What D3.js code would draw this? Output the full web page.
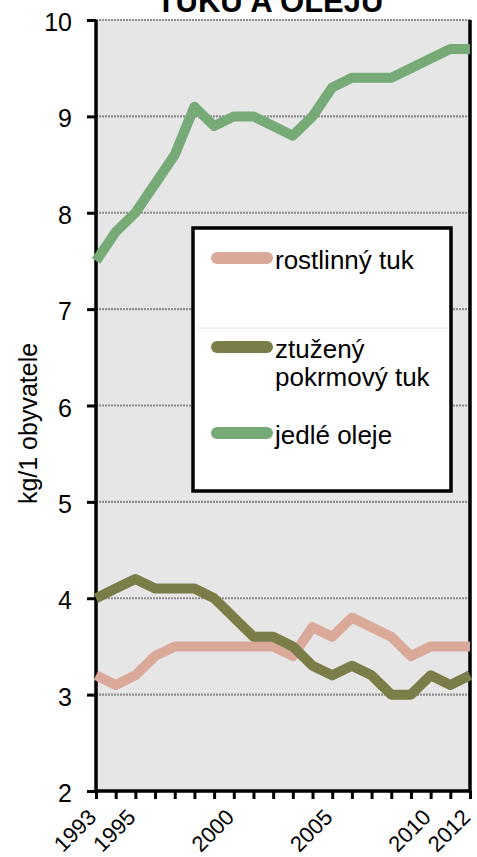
<!DOCTYPE html>
<html>
<head>
<meta charset="utf-8">
<script src="https://cdn.jsdelivr.net/npm/d3@7"></script>
<style>
  body { margin: 0; background: #fff; }
  svg { font-family: "Liberation Sans", Arial, sans-serif; }
</style>
</head>
<body>
<div id="chart"></div>
<script>
// data
const years = d3.range(1993, 2013);
const rostlinnyTuk = [3.2, 3.1, 3.2, 3.4, 3.5, 3.5, 3.5, 3.5, 3.5, 3.5, 3.4, 3.7, 3.6, 3.8, 3.7, 3.6, 3.4, 3.5, 3.5, 3.5];
const ztuzenyTuk = [4.0, 4.1, 4.2, 4.1, 4.1, 4.1, 4.0, 3.8, 3.6, 3.6, 3.5, 3.3, 3.2, 3.3, 3.2, 3.0, 3.0, 3.2, 3.1, 3.2];
const jedleOleje = [7.5, 7.8, 8.0, 8.3, 8.6, 9.1, 8.9, 9.0, 9.0, 8.9, 8.8, 9.0, 9.3, 9.4, 9.4, 9.4, 9.5, 9.6, 9.7, 9.7];
const yTicks = [2, 3, 4, 5, 6, 7, 8, 9, 10];
const xLabels = [1993, 1995, 2000, 2005, 2010, 2012];

const series = [
  { name: ["rostlinný tuk"], values: rostlinnyTuk, color: "#DBA99A" },
  { name: ["ztužený", "pokrmový tuk"], values: ztuzenyTuk, color: "#7A7D48" },
  { name: ["jedlé oleje"], values: jedleOleje, color: "#76AA77" }
];

const W = 477, H = 857;
const margin = { top: 20, right: 7, bottom: 66, left: 96 };

const svg = d3.select("#chart").append("svg")
  .attr("width", W)
  .attr("height", H);

const x = d3.scaleLinear([1993, 2012], [margin.left, W - margin.right]);
const y = d3.scaleLinear([2, 10], [H - margin.bottom, margin.top]);

// title, mostly cut off at the top
svg.append("text")
  .attr("x", 270).attr("y", 12)
  .attr("text-anchor", "middle")
  .style("font-size", "31px").style("font-weight", "bold")
  .text("TUKŮ A OLEJŮ");

// plot background
svg.append("rect")
  .attr("x", margin.left).attr("y", margin.top)
  .attr("width", x(2012) - x(1993)).attr("height", y(2) - y(10))
  .attr("fill", "#E6E6E6");

// dotted grid
svg.append("g")
  .selectAll("line")
  .data(yTicks.filter(d => d > 2))
  .join("line")
    .attr("x1", margin.left).attr("x2", x(2012))
    .attr("y1", d => y(d)).attr("y2", d => y(d))
    .attr("stroke", "#8C8C8C")
    .attr("stroke-width", 2.2)
    .attr("stroke-dasharray", "2,1");

// y axis
const yAxis = svg.append("g")
  .attr("transform", `translate(${margin.left},0)`)
  .call(d3.axisLeft(y).tickValues(yTicks).tickSize(9).tickPadding(15).tickFormat(d3.format("d")));
yAxis.select(".domain").remove();
yAxis.selectAll(".tick line").attr("stroke", "#000").attr("stroke-width", 3);
yAxis.selectAll(".tick text")
  .style("font-size", "25px").attr("fill", "#000").attr("dy", "0.42em");

// x axis
const xAxis = svg.append("g")
  .attr("transform", `translate(0,${y(2)})`)
  .call(d3.axisBottom(x).tickValues(years).tickSize(8).tickFormat(""));
xAxis.select(".domain").remove();
xAxis.selectAll(".tick line").attr("stroke", "#000").attr("stroke-width", 3);

svg.append("g")
  .selectAll("text")
  .data(xLabels)
  .join("text")
    .attr("transform", d => `translate(${x(d) - 4},${y(2) + 22}) rotate(-45)`)
    .attr("text-anchor", "end")
    .attr("dy", "0.36em")
    .style("font-size", "22px")
    .text(d => d);

// frame: left, right, bottom
svg.append("path")
  .attr("d", `M${x(1993)},${y(10)}V${y(2)}H${x(2012)}V${y(10)}`)
  .attr("fill", "none")
  .attr("stroke", "#000")
  .attr("stroke-width", 3.5);

// y axis title
svg.append("text")
  .attr("transform", `translate(37,${(y(2) + y(10)) / 2 + 18}) rotate(-90)`)
  .attr("text-anchor", "middle")
  .style("font-size", "25px")
  .text("kg/1 obyvatele");

// lines
const line = d3.line()
  .x((d, i) => x(years[i]))
  .y(d => y(d));

svg.append("g")
  .selectAll("path")
  .data(series)
  .join("path")
    .attr("fill", "none")
    .attr("stroke", d => d.color)
    .attr("stroke-width", 10)
    .attr("stroke-linejoin", "round")
    .attr("d", d => line(d.values));

// legend
const lg = svg.append("g");
lg.append("rect")
  .attr("x", 193).attr("y", 228)
  .attr("width", 258).attr("height", 263)
  .attr("fill", "#fff")
  .attr("stroke", "#000")
  .attr("stroke-width", 3.5);
lg.append("line")
  .attr("x1", 196).attr("x2", 448)
  .attr("y1", 328).attr("y2", 328)
  .attr("stroke", "#E4E4E4").attr("stroke-width", 1);

const legendY = [258, 347, 433];
const entries = lg.selectAll("g.entry")
  .data(series)
  .join("g")
    .attr("class", "entry")
    .attr("transform", (d, i) => `translate(0,${legendY[i]})`);
entries.append("line")
  .attr("x1", 217).attr("x2", 267)
  .attr("stroke", d => d.color)
  .attr("stroke-width", 12)
  .attr("stroke-linecap", "round");
entries.append("text")
  .attr("x", 275)
  .style("font-size", "26px")
  .selectAll("tspan")
  .data(d => d.name)
  .join("tspan")
    .attr("x", 275)
    .attr("y", (d, i) => 11 + i * 28)
    .text(d => d);
</script>
</body>
</html>
